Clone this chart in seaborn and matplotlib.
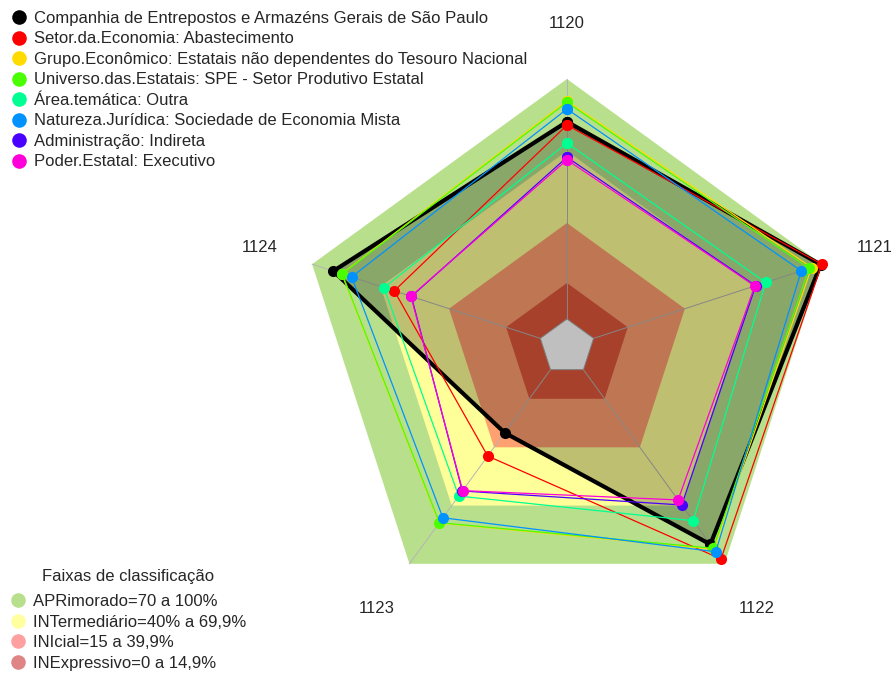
import numpy as np
import pandas as pd
import matplotlib
matplotlib.use("Agg")
import matplotlib.pyplot as plt
from matplotlib.lines import Line2D
import seaborn as sns

# --- DATA ---
axis_labels = ['1120', '1121', '1122', '1123', '1124']

series_names = [
    'Companhia de Entrepostos e Armazéns Gerais de São Paulo',
    'Setor.da.Economia: Abastecimento',
    'Grupo.Econômico: Estatais não dependentes do Tesouro Nacional',
    'Universo.das.Estatais: SPE - Setor Produtivo Estatal',
    'Área.temática: Outra',
    'Natureza.Jurídica: Sociedade de Economia Mista',
    'Administração: Indireta',
    'Poder.Estatal: Executivo',
]
series_colors = ['#000000', '#FF0000', '#FFDB00', '#49FF00',
                 '#00FF92', '#0092FF', '#4900FF', '#FF00DB']

companhia = [82.2, 99.5, 90.0, 32.5, 90.7]
setor = [80.8, 100.0, 97.5, 44.5, 64.0]
grupo = [90.9, 95.5, 92.5, 79.0, 87.0]
universo = [90.3, 94.4, 92.0, 78.8, 86.8]
area = [73.3, 75.4, 77.8, 65.1, 68.5]
natureza = [87.5, 91.0, 93.8, 76.3, 82.7]
administracao = [67.4, 71.0, 69.7, 62.5, 56.5]
poder = [66.3, 70.7, 67.1, 62.3, 56.7]
series_values = [companhia, setor, grupo, universo, area, natureza, administracao, poder]

# classification bands (upper limits) and colours
band_title = 'Faixas de classificação'
band_names = ['APRimorado=70 a 100%', 'INTermediário=40% a 69,9%',
              'INIcial=15 a 39,9%', 'INExpressivo=0 a 14,9%']
band_limits = [100, 70, 40, 15]
band_fill = ['#b8e08c', '#ffff99', '#ffa070', '#e0583a']
band_legend = ['#b8e08c', '#ffffa0', '#ffa0a0', '#e08585']

# --- STYLE ---
sns.set_style("white")
plt.rcParams['font.family'] = ['Liberation Sans', 'DejaVu Sans']

fig = plt.figure(figsize=(8.93, 6.73), dpi=100)
ax = fig.add_axes([0.3348, 0.0862, 0.6002, 0.7964], projection='polar')
ax.set_theta_offset(np.pi / 2)
ax.set_theta_direction(-1)
ax.set_rorigin(-11.67)
ax.set_ylim(0, 100)

n = len(axis_labels)
theta = np.linspace(0, 2 * np.pi, n, endpoint=False)
theta_closed = np.append(theta, 2 * np.pi)

# --- BANDS ---
for lim, col in zip(band_limits, band_fill):
    ax.fill(theta_closed, [lim] * (n + 1), color=col, lw=0, zorder=1, clip_on=False)
ax.fill(theta_closed, [0] * (n + 1), color='white', lw=0, zorder=1, clip_on=False)
ax.plot(theta_closed, [0] * (n + 1), color='#a8a8a8', lw=0.7, zorder=2, clip_on=False)
for t in theta:
    ax.plot([t, t], [0, 100], color='#b4b4b4', lw=0.7, zorder=2, clip_on=False)

# --- SERIES ---
comp_closed = companhia + companhia[:1]
ax.fill(theta_closed, comp_closed, color='black', alpha=0.25, lw=0, zorder=3, clip_on=False)

for i, (name, vals, col) in enumerate(zip(series_names, series_values, series_colors)):
    closed = vals + vals[:1]
    df = pd.DataFrame({'theta': theta_closed, 'value': closed})
    sns.lineplot(data=df, x='theta', y='value', ax=ax, sort=False, color=col,
                 lw=3 if i == 0 else 0.9, marker='o', markersize=8,
                 markeredgewidth=0, zorder=4 + i, legend=False, clip_on=False)

ax.set_xticks([])
ax.set_yticks([])
ax.set_xlabel('')
ax.set_ylabel('')
ax.grid(False)
ax.set_axis_off()

for t, lab in zip(theta, axis_labels):
    ax.text(t, 123, lab, ha='center', va='center', fontsize=12, clip_on=False)

# --- LEGENDS ---
top_handles = [Line2D([], [], marker='o', ls='', color=c, markersize=10.5, markeredgewidth=0)
               for c in series_colors]
leg1 = fig.legend(top_handles, series_names, loc='upper left', bbox_to_anchor=(0.0, 1.0),
                  frameon=False, fontsize=12, handletextpad=0.42, labelspacing=0.33,
                  borderaxespad=0, borderpad=0.65, handlelength=1.0)

bottom_handles = [Line2D([], [], marker='o', ls='', color=c, markersize=10.5, markeredgewidth=0)
                  for c in band_legend]
leg2 = fig.legend(bottom_handles, band_names, loc='lower left', bbox_to_anchor=(0.0, -0.0101),
                  frameon=False, fontsize=12, handletextpad=0.42, labelspacing=0.33,
                  borderaxespad=0, borderpad=0.55, handlelength=1.0)
fig.text(128 / 893, 1 - 577 / 673, band_title, ha='center', va='center', fontsize=12)

fig.savefig('out.png', dpi=100)
